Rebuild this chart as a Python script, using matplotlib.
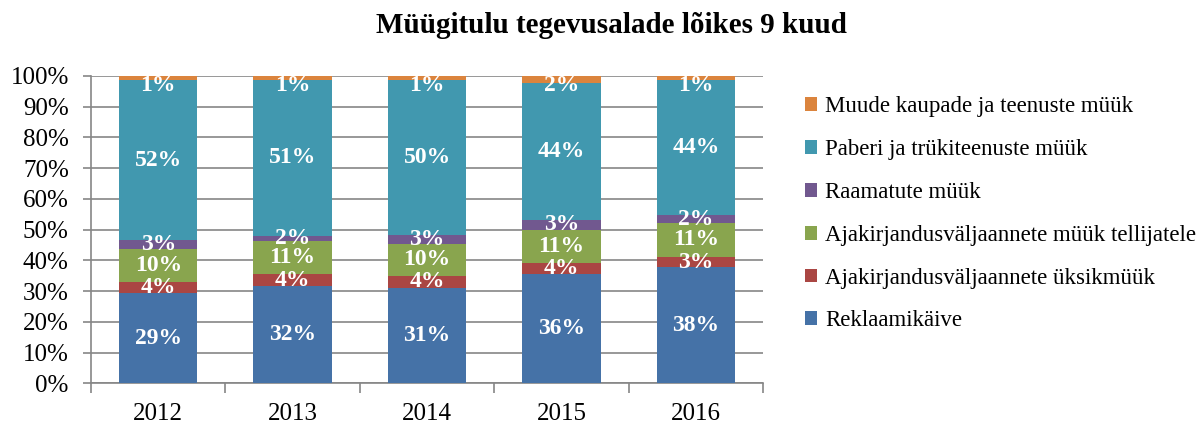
import matplotlib.pyplot as plt
import numpy as np

years = ["2012", "2013", "2014", "2015", "2016"]
series_names = [
    "Reklaamikäive",
    "Ajakirjandusväljaannete üksikmüük",
    "Ajakirjandusväljaannete müük tellijatele",
    "Raamatute müük",
    "Paberi ja trükiteenuste müük",
    "Muude kaupade ja teenuste müük",
]
# shares in percent, per series, per year
reklaam = [29.3, 31.6, 31.1, 35.6, 37.8]
uksikmuuk = [3.8, 3.9, 3.9, 3.6, 3.3]
tellijad = [10.6, 10.8, 10.4, 10.8, 11.1]
raamatud = [3.0, 1.7, 2.9, 3.2, 2.5]
paber = [51.8, 50.8, 50.4, 44.4, 43.8]
muud = [1.5, 1.2, 1.3, 2.4, 1.5]
labels = [
    ["29%", "32%", "31%", "36%", "38%"],
    ["4%", "4%", "4%", "4%", "3%"],
    ["10%", "11%", "10%", "11%", "11%"],
    ["3%", "2%", "3%", "3%", "2%"],
    ["52%", "51%", "50%", "44%", "44%"],
    ["1%", "1%", "1%", "2%", "1%"],
]
colors = ["#4572A7", "#AA4643", "#89A54E", "#71588F", "#4198AF", "#DB843D"]

plt.rcParams['font.family'] = ['Liberation Serif', 'DejaVu Serif']

fig = plt.figure(figsize=(11.98, 4.26), dpi=100)
ax = fig.add_axes([0.076, 0.100, 0.561, 0.722])

data = [reklaam, uksikmuuk, tellijad, raamatud, paber, muud]
x = np.arange(len(years))
bottom = np.zeros(len(years))
handles = []
for vals, name, col, labs in zip(data, series_names, colors, labels):
    vals = np.array(vals)
    h = ax.bar(x, vals, width=0.583, bottom=bottom, color=col, label=name, zorder=3)
    handles.append(h)
    for xi, b, v, t in zip(x, bottom, vals, labs):
        # keep the label inside the plot area, like Excel does
        yc = min(b + v / 2, 100 - 3.2)
        ax.text(xi, yc, t, ha='center', va='center', color='white',
                fontsize=17, fontweight='bold', zorder=4)
    bottom += vals

ax.set_xlim(-0.5, len(years) - 0.5)
ax.set_ylim(0, 100)
ax.set_yticks(np.arange(0, 101, 10))
ax.set_yticklabels([f"{v}%" for v in range(0, 101, 10)], fontsize=18)
ax.set_xticks(x)
ax.set_xticklabels(years, fontsize=18)
ax.set_xticks(np.arange(-0.5, len(years), 1), minor=True)
ax.tick_params(axis='x', which='major', length=0, pad=14)
ax.tick_params(axis='x', which='minor', length=7, color='#868686', width=1.2)
ax.tick_params(axis='y', length=6, color='#868686', width=1.2, pad=10)
ax.yaxis.grid(True, color='#868686', linewidth=1.2, zorder=0)
for s in ['top', 'right']:
    ax.spines[s].set_visible(False)
ax.spines['left'].set_color('#868686')
ax.spines['bottom'].set_color('#868686')
ax.spines['left'].set_linewidth(1.2)
ax.spines['bottom'].set_linewidth(1.2)

leg = fig.legend(handles[::-1], series_names[::-1], loc='upper left',
                 bbox_to_anchor=(0.664, 0.795), frameon=False, fontsize=16.5,
                 handlelength=0.55, handleheight=0.55, handletextpad=0.35,
                 labelspacing=0.95, borderaxespad=0.0)

fig.text(0.51, 0.94, "Müügitulu tegevusalade lõikes 9 kuud", ha='center',
         va='center', fontsize=21, fontweight='bold')

fig.savefig("out.png", dpi=100)
